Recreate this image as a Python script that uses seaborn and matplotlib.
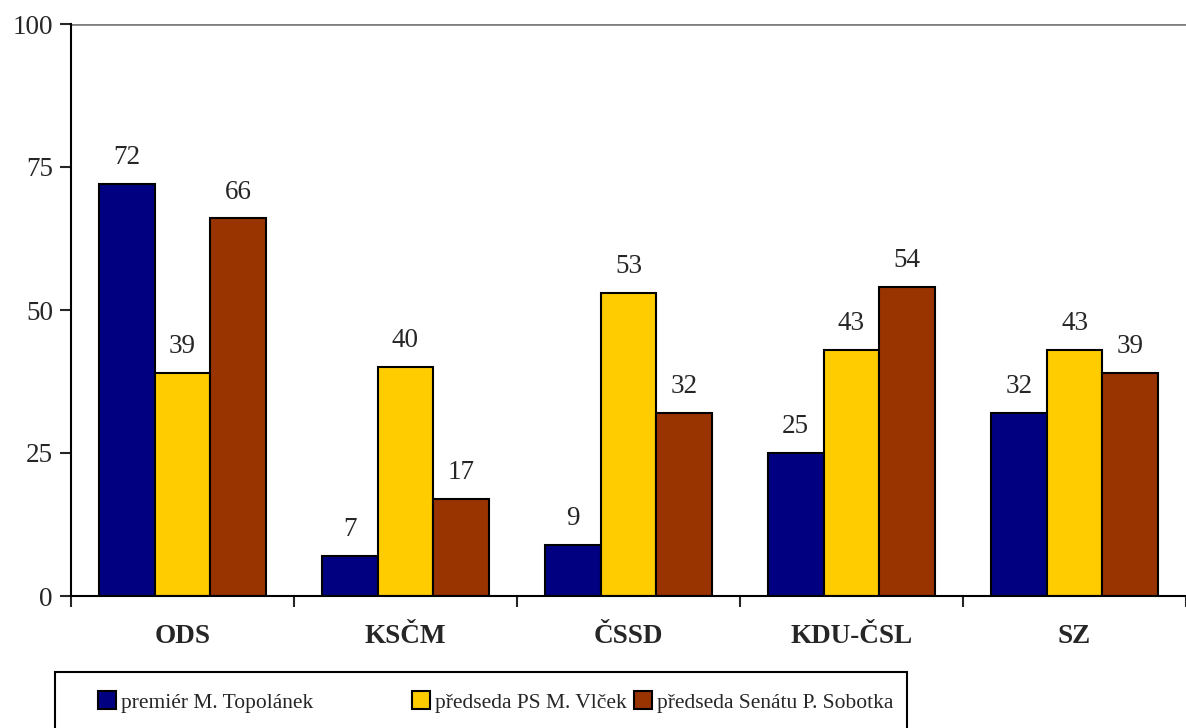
import matplotlib
matplotlib.use("Agg")
import matplotlib.pyplot as plt
import numpy as np
import pandas as pd
import seaborn as sns
from matplotlib.patches import Patch, Rectangle

# data
parties = ["ODS", "KSČM", "ČSSD", "KDU-ČSL", "SZ"]
series = ["premiér M. Topolánek", "předseda PS M. Vlček", "předseda Senátu P. Sobotka"]
topolanek = [72, 7, 9, 25, 32]
vlcek = [39, 40, 53, 43, 43]
sobotka = [66, 17, 32, 54, 39]
colors = ["#000080", "#FFCC00", "#993300"]

df = pd.DataFrame({
    "strana": parties * 3,
    "osoba": [series[0]] * 5 + [series[1]] * 5 + [series[2]] * 5,
    "hodnota": topolanek + vlcek + sobotka,
})

sns.set_style("white")
plt.rcParams['font.family'] = ['Liberation Serif', 'DejaVu Serif']

W, H = 1186, 728
fig = plt.figure(figsize=(W / 100, H / 100), dpi=100)
ax = fig.add_axes([71 / W, 132 / H, 1 - 71 / W, (596 - 24) / H])

sns.barplot(data=df, x="strana", y="hodnota", hue="osoba", palette=colors,
            saturation=1, width=0.75, gap=0, edgecolor="black", linewidth=1.5,
            legend=False, ax=ax, errorbar=None)

for cont in ax.containers:
    ax.bar_label(cont, padding=10, fontsize=19.5)

ax.set_xlim(-0.5, 4.5)
ax.set_ylim(0, 100)
ax.set_yticks([0, 25, 50, 75, 100])
ax.set_xlabel("")
ax.set_ylabel("")
ax.axhline(100, color="#808080", lw=2, zorder=0)

for s in ["top", "right"]:
    ax.spines[s].set_visible(False)
for s in ["left", "bottom"]:
    ax.spines[s].set_color("black")
    ax.spines[s].set_linewidth(1.5)

ax.tick_params(axis="y", direction="out", length=8, width=1.5, pad=5, labelsize=19.5, left=True)
ax.tick_params(axis="x", which="major", length=0, pad=20, labelsize=19.5)
ax.set_xticks(np.arange(-0.5, 5.0, 1.0), minor=True)
ax.tick_params(axis="x", which="minor", direction="out", length=8, width=1.5, bottom=True)
for lab in ax.get_xticklabels():
    lab.set_fontweight("bold")

# legend frame (runs off the bottom edge like the reference)
fig.patches.append(Rectangle((55 / W, -0.05), (907 - 55) / W, 0.05 + (H - 672) / H,
                             transform=fig.transFigure, facecolor="white",
                             edgecolor="black", linewidth=1.5))
# one legend per entry so each sits where the reference puts it
for c, name, xpix in zip(colors, series, [98, 412, 634]):
    h = Patch(facecolor=c, edgecolor="black", linewidth=1.5)
    fig.legend([h], [name], loc="center left",
               bbox_to_anchor=(xpix / W, (H - 702) / H),
               fontsize=15.5, frameon=False, handlelength=0.85,
               handleheight=0.85, handletextpad=0.2, borderpad=0, borderaxespad=0)

fig.savefig("out.png", dpi=100)
